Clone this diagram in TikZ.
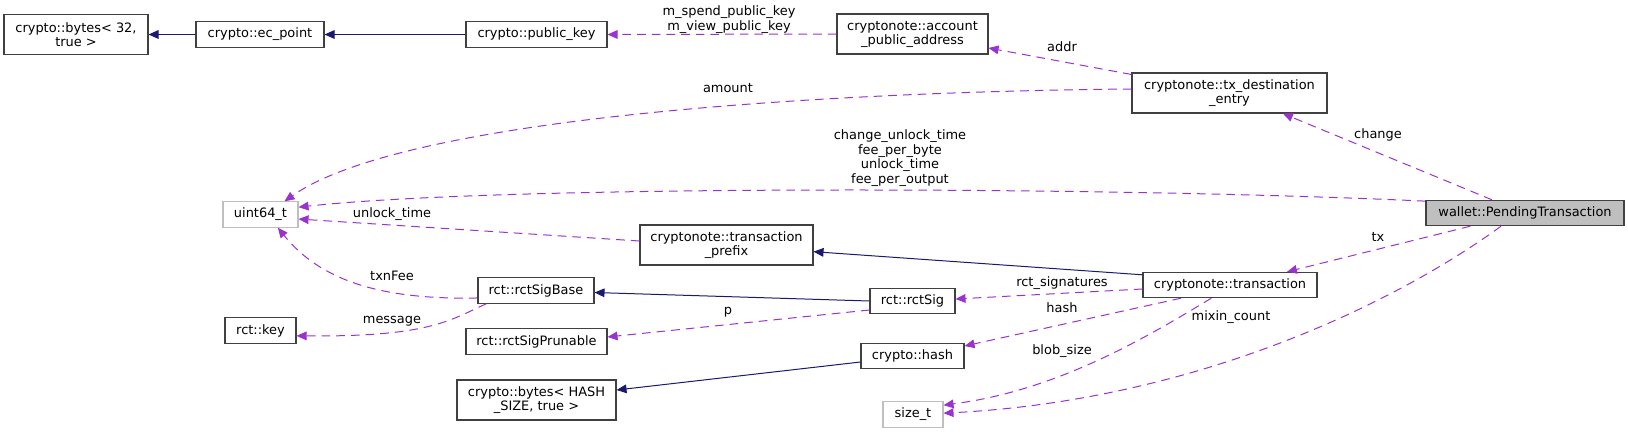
\documentclass[tikz,border=0pt]{standalone}
\usepackage{fontspec}
\setmainfont{DejaVu Sans}
\usepackage{tikz}
\usetikzlibrary{arrows.meta}
\usetikzlibrary{positioning}
\definecolor{edgeblue}{HTML}{191970}
\definecolor{edgepurple}{HTML}{9A32CD}
\definecolor{boxline}{HTML}{404040}
\definecolor{boxfill}{HTML}{BFBFBF}
\tikzstyle{box} = [draw = boxline, line width = 0.8pt, inner sep = 0, align = center, font = \fontsize{9.7pt}{10.5pt}\selectfont]
\tikzstyle{class box} = [box]
\tikzstyle{type box} = [box, draw = boxfill]
\tikzstyle{main box} = [box, fill = boxfill]
\tikzstyle{one line} = [minimum height = 19pt]
\tikzstyle{two lines} = [minimum height = 30pt]
\tikzstyle{edge label} = [inner sep = 0, align = center, font = \fontsize{9.7pt}{10.9pt}\selectfont]
\tikzstyle{base edge} = [draw = edgeblue, line width = 0.75pt, -{Triangle[length = 7.5pt, width = 6.5pt]}]
\tikzstyle{use edge} = [base edge, draw = edgepurple, dash pattern = on 6.5pt off 4.5pt]

\begin{document}
\begin{tikzpicture}[x=0.75pt, y=-0.75pt]
            \useasboundingbox (0, 0) rectangle (1628, 433);

            \node [class box, two lines, minimum width = 108pt] (b32) at (76, 34.5) {crypto::bytes< 32,\\true >};
            \node [class box, one line, minimum width = 96pt] (ec) at (260, 34.5) {crypto::ec\_point};
            \node [class box, one line, minimum width = 105.75pt] (pk) at (536.5, 34.5) {crypto::public\_key};
            \node [class box, two lines, minimum width = 113.25pt] (acc) at (912.5, 34) {cryptonote::account\\\_public\_address};
            \node [class box, two lines, minimum width = 146.25pt] (dest) at (1229.5, 93) {cryptonote::tx\_destination\\\_entry};
            \node [main box, one line, minimum width = 148.5pt] (pt) at (1525, 213) {wallet::PendingTransaction};
            \node [type box, one line, minimum width = 56.25pt] (u64) at (260.5, 214.5) {uint64\_t};
            \node [class box, two lines, minimum width = 129.75pt] (pre) at (726.5, 245) {cryptonote::transaction\\\_prefix};
            \node [class box, one line, minimum width = 87pt] (rsb) at (536, 290.5) {rct::rctSigBase};
            \node [class box, one line, minimum width = 53.25pt] (key) at (260.5, 330.5) {rct::key};
            \node [class box, one line, minimum width = 105.75pt] (rsp) at (536.5, 341.5) {rct::rctSigPrunable};
            \node [class box, two lines, minimum width = 119.25pt] (bh) at (536.5, 400) {crypto::bytes< HASH\\\_SIZE, true >};
            \node [class box, one line, minimum width = 63.75pt] (rs) at (912.5, 301) {rct::rctSig};
            \node [class box, one line, minimum width = 130.5pt] (tr) at (1230, 285) {cryptonote::transaction};
            \node [class box, one line, minimum width = 77.25pt] (hash) at (912.5, 356) {crypto::hash};
            \node [type box, one line, minimum width = 45pt] (size) at (913, 414.5) {size\_t};

            \draw [base edge] (ec.west) -- (b32.east);
            \draw [base edge] (pk.west) -- (ec.east);
            \draw [base edge] ([yshift = -2.25pt]tr.north west) -- ([yshift = -5pt]pre.east);
            \draw [base edge] (rs.west) -- ([yshift = -1.5pt]rsb.east);
            \draw [base edge] ([yshift = -4.5pt]hash.west) -- ([yshift = 7.5pt]bh.east);

            \draw [use edge] (acc.west) -- (pk.east);
            \draw [use edge] ([yshift = -1.5pt]dest.north west) -- ([yshift = -10.5pt]acc.east);
            \draw [use edge] ([yshift = 3pt]dest.west)
                .. controls (800, 92) and (400, 120) .. ([xshift = 18pt]u64.north);
            \draw [use edge] ([xshift = -24.75pt]pt.north) -- ([xshift = 40pt]dest.south);
            \draw [use edge] ([yshift = -1pt]pt.north west)
                .. controls (1100, 186) and (500, 185) .. ([yshift = 5.5pt]u64.east);
            \draw [use edge] ([yshift = 3pt]pre.west) -- ([yshift = -3.4pt]u64.east);
            \draw [use edge] ([yshift = -5.6pt]rsb.west)
                .. controls (380, 300) and (320, 280) .. ([xshift = 13pt]u64.south);
            \draw [use edge] ([xshift = 6.75pt]rsb.south west)
                .. controls (450, 320) and (430, 337) .. ([yshift = -4pt]key.east);
            \draw [use edge] ([yshift = -6.75pt]rs.west) -- ([yshift = 3.4pt]rsp.east);
            \draw [use edge] ([yshift = -3pt]tr.west) -- ([yshift = 1.5pt]rs.east);
            \draw [use edge] ([xshift = -36.75pt]tr.south) -- ([yshift = 7.5pt]hash.east);
            \draw [use edge] ([xshift = -14pt]tr.south)
                .. controls (1150, 335) and (1060, 390) .. ([yshift = 7pt]size.east);
            \draw [use edge] ([xshift = -18pt]pt.south)
                .. controls (1400, 300) and (1200, 400) .. ([yshift = 1pt]size.east);
            \draw [use edge] ([xshift = -41pt]pt.south) -- ([xshift = 42.75pt]tr.north);

            \node [edge label] (lkeys) at (729, 19.5) {m\_spend\_public\_key\\m\_view\_public\_key};
            \node [edge label] (ltimes) at (900, 158) {change\_unlock\_time\\fee\_per\_byte\\unlock\_time\\fee\_per\_output};
            \foreach \n/\x/\y/\t in {addr/1062/47/addr, amount/728/88/amount, change/1378/135/change,
                unlock/392/214/unlock\_time, fee/392/276/txnFee, msg/392/321/message, p/728/312/p,
                tx/1378/237/tx, sig/1062/283/rct\_signatures, hash/1062/308/hash,
                blob/1062/351/blob\_size, mixin/1231/317/mixin\_count}
            {
                \node [edge label] (l\n) at (\x, \y) {\t};
            }
\end{tikzpicture}
\end{document}
